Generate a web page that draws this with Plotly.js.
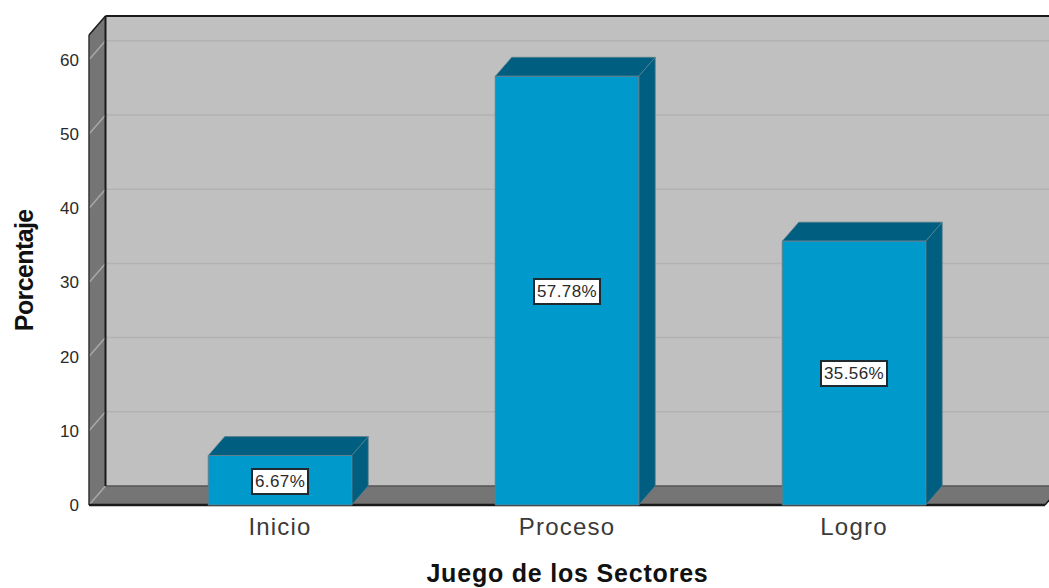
<!DOCTYPE html>
<html>
<head>
<meta charset="utf-8">
<script src="https://cdn.plot.ly/plotly-3.0.1.min.js"></script>
<style>
html,body{margin:0;padding:0;background:#fff}#chart{width:1049px;height:588px}
.xtitle{letter-spacing:0.8px}
.xtick text{letter-spacing:1.2px}
.annotation-text{letter-spacing:0.4px}
.annotation[data-index="3"] .annotation-text{letter-spacing:-0.6px}
</style>
</head>
<body>
<div id="chart"></div>
<script>
var categories = ['Inicio', 'Proceso', 'Logro'];
var percentages = [6.67, 57.78, 35.56];
var tickValues = [0, 10, 20, 30, 40, 50, 60];
var xTitle = 'Juego de los Sectores';
var yTitle = 'Porcentaje';

var FONT = '"Liberation Sans", Arial, sans-serif';
var positions = categories.map(function (_, i) { return i; });
var barWidth = 0.5;
var depthX = 0.0575, depthY = 2.56;
var wallLeft = -0.6655, wallRight = 2.6655, wallTop = 63.34;

function poly(points, fill, line, width) {
  var path = points.map(function (p, i) { return (i ? 'L' : 'M') + p[0] + ' ' + p[1]; }).join(' ') + ' Z';
  return {type: 'path', xref: 'x', yref: 'y', layer: 'below', path: path, fillcolor: fill,
          line: {color: line || fill, width: width === undefined ? 0 : width}};
}
function seg(x0, y0, x1, y1, color, width) {
  return {type: 'line', xref: 'x', yref: 'y', layer: 'below', x0: x0, y0: y0, x1: x1, y1: y1,
          line: {color: color, width: width}};
}

var shapes = [];
shapes.push(poly([[wallLeft + depthX, depthY], [wallRight + depthX, depthY], [wallRight + depthX, wallTop + depthY], [wallLeft + depthX, wallTop + depthY]], '#c0c0c0'));
shapes.push(poly([[wallLeft, 0], [wallLeft + depthX, depthY], [wallLeft + depthX, wallTop + depthY], [wallLeft, wallTop]], '#757575'));
shapes.push(poly([[wallLeft, 0], [wallRight, 0], [wallRight + depthX, depthY], [wallLeft + depthX, depthY]], '#757575'));
tickValues.slice(1).forEach(function (v) {
  shapes.push(seg(wallLeft + depthX, v + depthY, wallRight + depthX, v + depthY, '#b2b2b2', 1.5));
  shapes.push(seg(wallLeft, v, wallLeft + depthX, v + depthY, '#a8a8a8', 1.5));
});
shapes.push(seg(wallLeft, 0, wallLeft + depthX, depthY, '#a8a8a8', 1.5));
shapes.push(seg(wallLeft + depthX, depthY, wallRight + depthX, depthY, '#555555', 1.5));
shapes.push(seg(wallLeft, 0, wallLeft, wallTop, '#333333', 1.5));
shapes.push(seg(wallLeft + depthX, depthY, wallLeft + depthX, wallTop + depthY, '#1a1a1a', 2));
shapes.push(seg(wallLeft, wallTop, wallLeft + depthX, wallTop + depthY, '#1a1a1a', 1.5));
shapes.push(seg(wallLeft + depthX, wallTop + depthY, wallRight + depthX, wallTop + depthY, '#1a1a1a', 2));
shapes.push(seg(wallLeft, 0, wallRight, 0, '#1a1a1a', 2.5));
shapes.push(seg(wallRight, 0, wallRight + depthX, depthY, '#1a1a1a', 1.5));
positions.forEach(function (x, i) {
  var v = percentages[i], l = x - barWidth / 2, r = x + barWidth / 2;
  shapes.push(poly([[l, v], [r, v], [r + depthX, v + depthY], [l + depthX, v + depthY]], '#005f80', '#5f7f8c', 0.75));
  shapes.push(poly([[r, 0], [r + depthX, depthY], [r + depthX, v + depthY], [r, v]], '#005f80', '#5f7f8c', 0.75));
});

var annotations = positions.map(function (x, i) {
  return {x: x, y: percentages[i] / 2 - 0.1, xref: 'x', yref: 'y', showarrow: false,
          text: percentages[i].toFixed(2) + '%', font: {family: FONT, size: 17, color: '#2a2a2a'},
          bgcolor: '#ffffff', bordercolor: '#1f2a30', borderwidth: 2, borderpad: 2};
});
annotations.push({xref: 'paper', yref: 'paper', x: -0.0802, y: 0.481, showarrow: false,
                  text: '<b>' + yTitle + '</b>', textangle: -90,
                  font: {family: FONT, size: 25, color: '#111111'}});

var pxX = 287, pxY = 7.42;
var layout = {
  width: 1049, height: 588,
  margin: {l: 86, r: 0, t: 14, b: 80},
  paper_bgcolor: '#ffffff', plot_bgcolor: '#ffffff',
  showlegend: false,
  xaxis: {range: [(86 - 280) / pxX, (1049 - 280) / pxX], tickvals: positions, ticktext: categories,
          showgrid: false, zeroline: false, showline: false, ticks: '', ticklabelstandoff: 2,
          tickfont: {family: FONT, size: 24, color: '#3a3a3a'},
          title: {text: '<b>' + xTitle + '</b>', standoff: 25, font: {family: FONT, size: 25, color: '#111111'}}},
  yaxis: {range: [-3 / pxY, (505 - 14) / pxY], tickvals: tickValues, ticktext: tickValues.map(String),
          showgrid: false, zeroline: false, showline: false, ticks: '', ticklabelstandoff: 6,
          tickfont: {family: FONT, size: 17, color: '#2a2a2a'}},
  shapes: shapes,
  annotations: annotations
};

var trace = {type: 'bar', x: positions, y: percentages, width: barWidth, hoverinfo: 'skip',
             marker: {color: '#0099cc', line: {color: '#5f7f8c', width: 1}}};

Plotly.newPlot('chart', [trace], layout, {displayModeBar: false, staticPlot: true});
</script>
</body>
</html>
